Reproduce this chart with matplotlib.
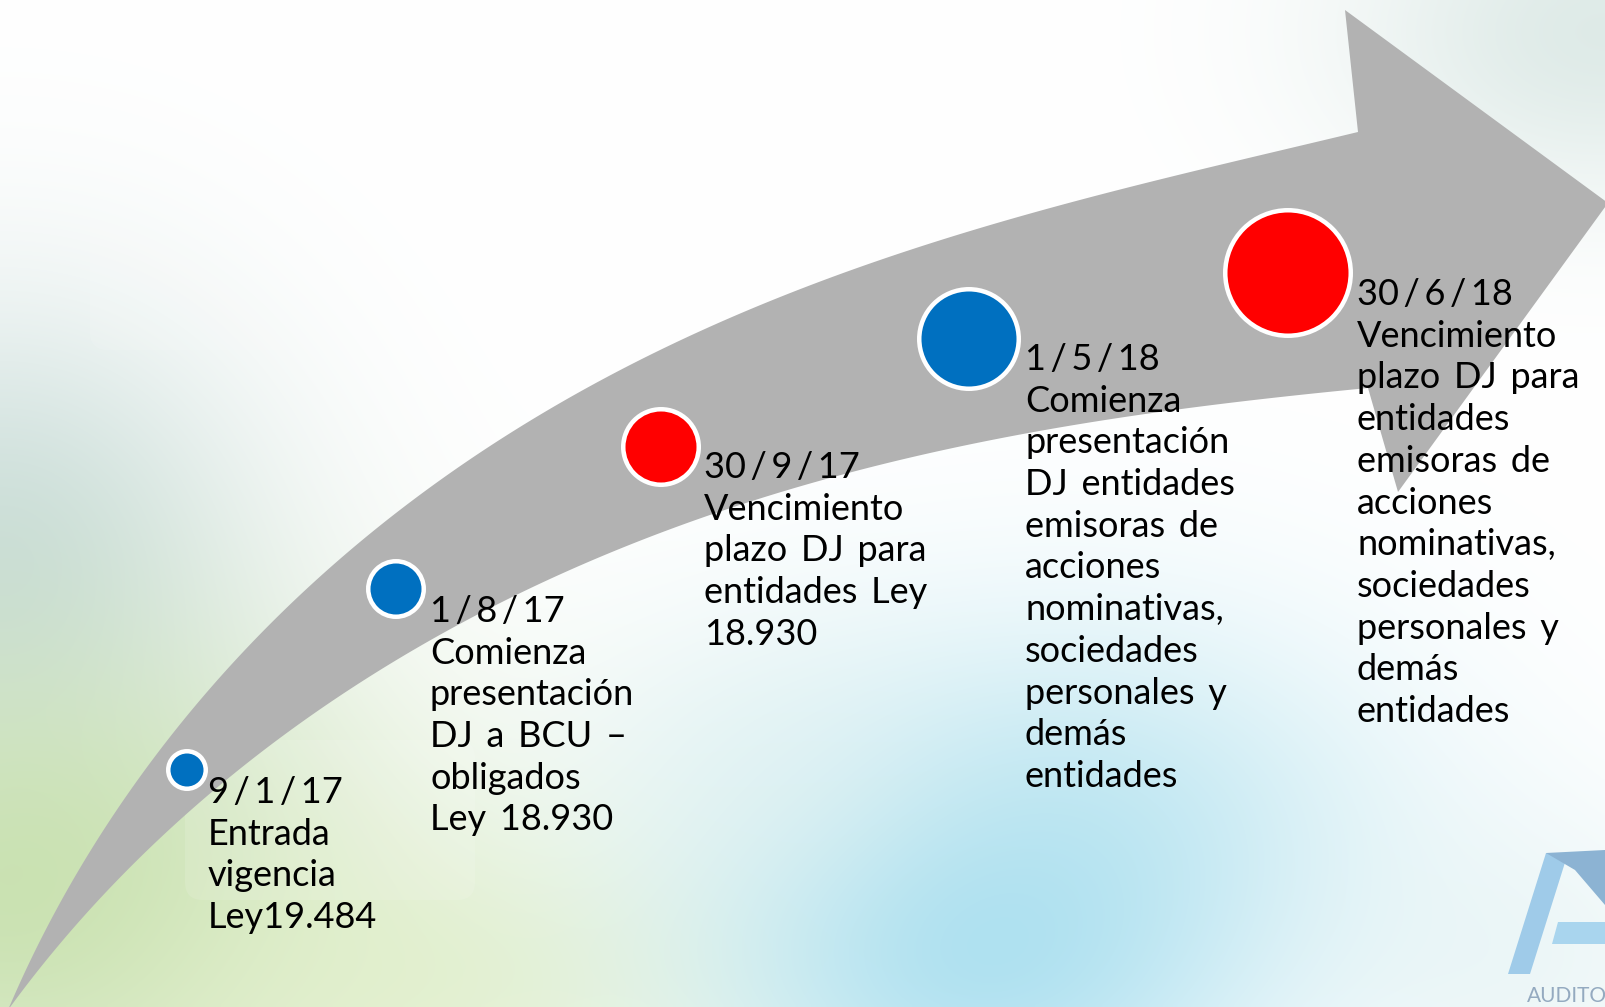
import numpy as np
import matplotlib.pyplot as plt
from matplotlib.patches import Polygon, Circle, FancyBboxPatch
from matplotlib.colors import to_rgb

W, H = 1605, 1007

# ---- data: events of the timeline ----
fechas = ['9/1/17', '1/8/17', '30/9/17', '1/5/18', '30/6/18']
descripciones = [
    ['Entrada', 'vigencia', 'Ley19.484'],
    ['Comienza', 'presentación', 'DJ a BCU –', 'obligados', 'Ley 18.930'],
    ['Vencimiento', 'plazo DJ para', 'entidades Ley', '18.930'],
    ['Comienza', 'presentación', 'DJ entidades', 'emisoras de', 'acciones',
     'nominativas,', 'sociedades', 'personales y', 'demás', 'entidades'],
    ['Vencimiento', 'plazo DJ para', 'entidades', 'emisoras de', 'acciones',
     'nominativas,', 'sociedades', 'personales y', 'demás', 'entidades'],
]
tipos = ['inicio', 'inicio', 'vencimiento', 'inicio', 'vencimiento']

# ---- layout (pixels, y down) ----
colores_tipo = {'inicio': '#0070C0', 'vencimiento': '#FF0000'}
centros = [(187, 770), (396, 589), (661, 447), (969, 339), (1288, 273)]
radios = [21, 30, 40, 52, 65]
anclas = [(208, 803), (430, 622), (704, 478), (1025, 370), (1357, 305)]
paso = 41.7
tam = 26
fuente = ['Lato', 'DejaVu Sans']

# arrow outline
borde_sup = np.array([(8, 1010), (83, 867), (150, 767), (200, 700), (250, 637),
                      (350, 550), (475, 462), (617, 370), (700, 328), (783, 293),
                      (850, 273), (923, 250), (1017, 218), (1183, 170), (1358, 132)], float)
borde_inf = np.array([(8, 1010), (100, 900), (200, 800), (250, 760), (333, 700),
                      (483, 617), (617, 547), (783, 490), (950, 450), (1050, 428),
                      (1183, 410), (1368, 388)], float)
cabeza = [(1345, 10), (1608, 203), (1398, 492)]


def suavizar(p, grado=4, n=300):
    # smooth curve through the traced points (ends pinned)
    d = np.r_[0, np.cumsum(np.hypot(*np.diff(p, axis=0).T))]
    t = d / d[-1]
    w = np.ones(len(p))
    w[0] = w[-1] = 30
    fx = np.polyfit(t, p[:, 0], grado, w=w)
    fy = np.polyfit(t, p[:, 1], grado, w=w)
    tt = np.linspace(0, 1, n)
    return np.c_[np.polyval(fx, tt), np.polyval(fy, tt)]


fig = plt.figure(figsize=(W / 100, H / 100), dpi=100)
ax = fig.add_axes([0, 0, 1, 1])

# background wash
manchas = [
    (0, 560, 260, 260, '#c4d9d6', 0.85),
    (40, 900, 380, 260, '#c3dea8', 0.9),
    (430, 980, 320, 160, '#dfeec6', 0.7),
    (1100, 820, 320, 220, '#b6e3ee', 0.6),
    (980, 940, 260, 200, '#a4ddef', 0.85),
    (760, 760, 200, 160, '#e0f1f0', 0.5),
    (1605, 30, 260, 170, '#d4e4e0', 0.75),
    (1520, 960, 220, 160, '#dff0f1', 0.5),
]
yy, xx = np.mgrid[0:H:4, 0:W:4]
img = np.ones(yy.shape + (3,))
for cx, cy, sx, sy, c, a in manchas:
    w = a * np.exp(-((xx - cx) / sx) ** 2 - ((yy - cy) / sy) ** 2)
    img = img * (1 - w[..., None]) + np.array(to_rgb(c)) * w[..., None]
ax.imshow(img, extent=(0, W, H, 0), interpolation='bilinear', zorder=0)

for x0, y0, bw, bh in [(90, 170, 330, 180), (185, 740, 290, 160)]:
    ax.add_patch(FancyBboxPatch((x0, y0), bw, bh, boxstyle='round,pad=0,rounding_size=18',
                                fc='white', ec='none', alpha=0.12, zorder=0.5))

# logo corner
ax.add_patch(Polygon([(1508, 974), (1530, 974), (1568, 853), (1546, 853)],
                     closed=True, fc='#9fcbe9', ec='none', zorder=1))
ax.add_patch(Polygon([(1546, 853), (1605, 850), (1605, 905), (1575, 870)],
                     closed=True, fc='#8cb3d3', ec='none', zorder=1))
ax.add_patch(Polygon([(1558, 922), (1605, 922), (1605, 944), (1552, 944)],
                     closed=True, fc='#a9d5ee', ec='none', zorder=1))
ax.text(1527, 1002, 'AUDITO', fontsize=15, family=fuente, color='#94aac0',
        va='baseline', ha='left', zorder=1)

# arrow
sup = suavizar(borde_sup)
inf = suavizar(borde_inf)
contorno = np.vstack([sup, cabeza, inf[::-1]])
ax.add_patch(Polygon(contorno, closed=True, fc='#b2b2b2', ec='none', zorder=2))

# events
for i in range(len(fechas)):
    cx, cy = centros[i]
    r = radios[i]
    ax.add_patch(Circle((cx, cy), r, fc='white', ec='none', zorder=3))
    ax.add_patch(Circle((cx, cy), r - 4.5, fc=colores_tipo[tipos[i]], ec='none', zorder=4))
    x, y = anclas[i]
    lineas = [fechas[i].replace('/', '\u2009/\u2009')] + descripciones[i]
    for j, linea in enumerate(lineas):
        # the original typeface has wider word gaps
        ax.text(x, y + j * paso, linea.replace(' ', ' \u2009'), fontsize=tam, family=fuente,
                color='black', va='baseline', ha='left', zorder=5)

ax.set_xlim(0, W)
ax.set_ylim(H, 0)
ax.set_aspect('auto')
ax.axis('off')
fig.savefig('out.png', dpi=100)
